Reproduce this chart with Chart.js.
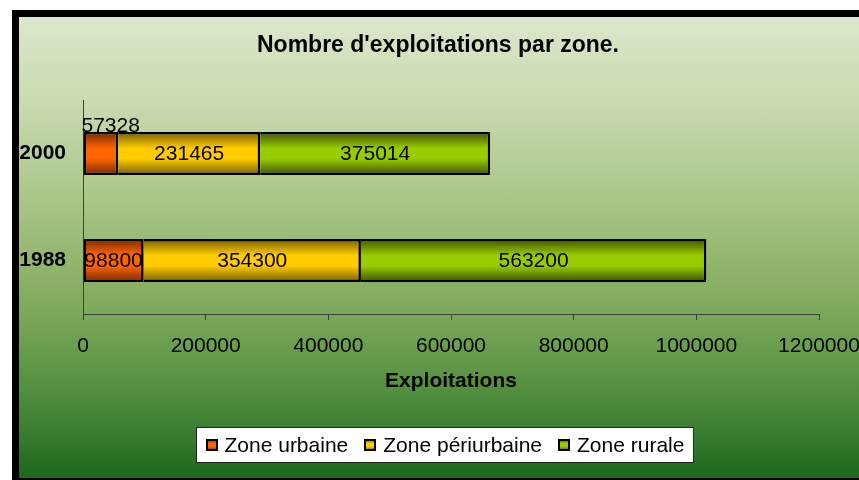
<!DOCTYPE html>
<html>
<head>
<meta charset="utf-8">
<script src="https://cdn.jsdelivr.net/npm/chart.js@4"></script>
<style>
  html, body { margin: 0; padding: 0; background: #fff; width: 859px; height: 480px; overflow: hidden; }
  #frame {
    position: absolute; left: 12px; top: 10px; width: 900px; height: 461px;
    border: 7px solid #000; border-right: none;
    background: linear-gradient(to bottom, #dce7cb 0%, #c9dbb0 18%, #a9c587 40%, #82ab5e 62%, #5a9443 78%, #3a7d31 90%, #1c681d 100%);
  }
  #c { position: absolute; left: 0; top: 0; }
</style>
</head>
<body>
<div id="frame"></div>
<canvas id="c" width="876" height="480"></canvas>
<script>
// data
const chartTitle = "Nombre d'exploitations par zone.";
const axisTitle = "Exploitations";
const categories = ["2000", "1988"];
const seriesNames = ["Zone urbaine", "Zone périurbaine", "Zone rurale"];
const urbaine = [57328, 98800];
const periurbaine = [231465, 354300];
const rurale = [375014, 563200];
const xMax = 1200000;
const xStep = 200000;

const FONT = '"Liberation Sans", Arial, sans-serif';

// dark edge / bright middle, like the Excel bars
const palette = [
  { dark: "#7a2800", bright: "#ff6600" },
  { dark: "#7a5e00", bright: "#ffcc00" },
  { dark: "#3f5400", bright: "#99cc00" },
];

function vGrad(ctx, top, bottom, p) {
  const g = ctx.createLinearGradient(0, top, 0, bottom);
  g.addColorStop(0, p.dark);
  g.addColorStop(0.38, p.bright);
  g.addColorStop(0.62, p.bright);
  g.addColorStop(1, p.dark);
  return g;
}

function barFill(p) {
  return (c) => {
    const y = c.chart.scales.y;
    if (!y || c.dataIndex === undefined || !y.height) return p.bright;
    const mid = y.getPixelForValue(c.dataIndex);
    const h = (y.height / categories.length) * 0.4;
    return vGrad(c.chart.ctx, mid - h / 2, mid + h / 2, p);
  };
}

// title, a bit left of the plot centre as in the original
const topTitle = {
  id: "topTitle",
  afterDraw(chart) {
    const ctx = chart.ctx;
    ctx.save();
    ctx.font = "bold 23px " + FONT;
    ctx.fillStyle = "#000";
    ctx.textAlign = "center";
    ctx.textBaseline = "middle";
    ctx.fillText(chartTitle, (chart.chartArea.left + chart.chartArea.right) / 2 - 13, 46);
    ctx.restore();
  },
};

// value labels; a label too wide for its segment sits above the bar
const valueLabels = {
  id: "valueLabels",
  afterDatasetsDraw(chart) {
    const ctx = chart.ctx;
    ctx.save();
    ctx.font = "21px " + FONT;
    ctx.fillStyle = "#000";
    chart.data.datasets.forEach((ds, i) => {
      chart.getDatasetMeta(i).data.forEach((bar, j) => {
        const txt = String(ds.data[j]);
        const w = ctx.measureText(txt).width;
        const left = Math.min(bar.x, bar.base);
        const right = Math.max(bar.x, bar.base);
        if (w > right - left + 4) {
          ctx.textAlign = "left";
          ctx.textBaseline = "alphabetic";
          ctx.fillText(txt, left - 2, bar.y - bar.height / 2);
        } else {
          ctx.textAlign = "center";
          ctx.textBaseline = "middle";
          ctx.fillText(txt, (left + right) / 2, bar.y + 1);
        }
      });
    });
    ctx.restore();
  },
};

// boxed legend under the axis title
const boxLegend = {
  id: "boxLegend",
  afterDraw(chart) {
    const ctx = chart.ctx;
    ctx.save();
    ctx.font = "21px " + FONT;
    const sq = 12, afterSq = 7, gap = 16, pad = 9;
    const widths = seriesNames.map((n) => ctx.measureText(n).width);
    let total = widths.reduce((a, b) => a + b, 0) + seriesNames.length * (sq + afterSq) + gap * (seriesNames.length - 1);
    const boxW = total + pad * 2;
    const boxH = 35;
    const cx = (chart.chartArea.left + chart.chartArea.right) / 2 - 7;
    const top = chart.scales.x.bottom + 23;
    const left = Math.round(cx - boxW / 2) + 0.5;
    ctx.fillStyle = "#fff";
    ctx.fillRect(left, top + 0.5, boxW, boxH);
    ctx.strokeStyle = "#222";
    ctx.lineWidth = 1;
    ctx.strokeRect(left, top + 0.5, boxW, boxH);
    let x = left + pad;
    const my = top + boxH / 2 + 0.5;
    seriesNames.forEach((n, i) => {
      ctx.fillStyle = vGrad(ctx, my - sq / 2, my + sq / 2, palette[i]);
      ctx.fillRect(Math.round(x), Math.round(my - sq / 2), sq, sq);
      ctx.strokeStyle = "#000";
      ctx.lineWidth = 2;
      ctx.strokeRect(Math.round(x) + 1, Math.round(my - sq / 2) + 1, sq - 2, sq - 2);
      x += sq + afterSq;
      ctx.fillStyle = "#000";
      ctx.textAlign = "left";
      ctx.textBaseline = "middle";
      ctx.fillText(n, x, my + 1);
      x += widths[i] + gap;
    });
    ctx.restore();
  },
};

const seriesData = [urbaine, periurbaine, rurale];

new Chart(document.getElementById("c"), {
  type: "bar",
  data: {
    labels: categories,
    datasets: seriesNames.map((name, i) => ({
      label: name,
      data: seriesData[i],
      backgroundColor: barFill(palette[i]),
      borderColor: "#000",
      borderWidth: 2.5,
      borderSkipped: i === 0 ? false : "start",
      barPercentage: 0.5,
      categoryPercentage: 0.8,
    })),
  },
  options: {
    indexAxis: "y",
    responsive: false,
    animation: false,
    devicePixelRatio: 1,
    layout: { padding: { left: 0, right: 57, top: 100, bottom: 76 } },
    plugins: {
      legend: { display: false },
      tooltip: { enabled: false },
      title: { display: false },
    },
    scales: {
      x: {
        stacked: true,
        min: 0,
        max: xMax,
        ticks: {
          stepSize: xStep,
          color: "#000",
          padding: 14,
          font: { family: FONT, size: 21 },
          maxRotation: 0,
          callback: (v) => String(v),
        },
        grid: { drawOnChartArea: false, drawTicks: true, tickLength: 6, color: "#404040" },
        border: { display: true, color: "#404040", width: 1 },
        title: {
          display: true,
          text: axisTitle,
          color: "#000",
          font: { family: FONT, size: 21, weight: "bold" },
          padding: { top: 0, bottom: 10 },
        },
        afterFit: (s) => { s.height = 90; },
      },
      y: {
        stacked: true,
        ticks: {
          color: "#000",
          padding: 17,
          font: { family: FONT, size: 21, weight: "bold" },
        },
        grid: { drawOnChartArea: false, drawTicks: false, tickLength: 0 },
        border: { display: true, color: "#404040", width: 1 },
        afterFit: (s) => { s.width = 83; },
      },
    },
  },
  plugins: [valueLabels, topTitle, boxLegend],
});
</script>
</body>
</html>
